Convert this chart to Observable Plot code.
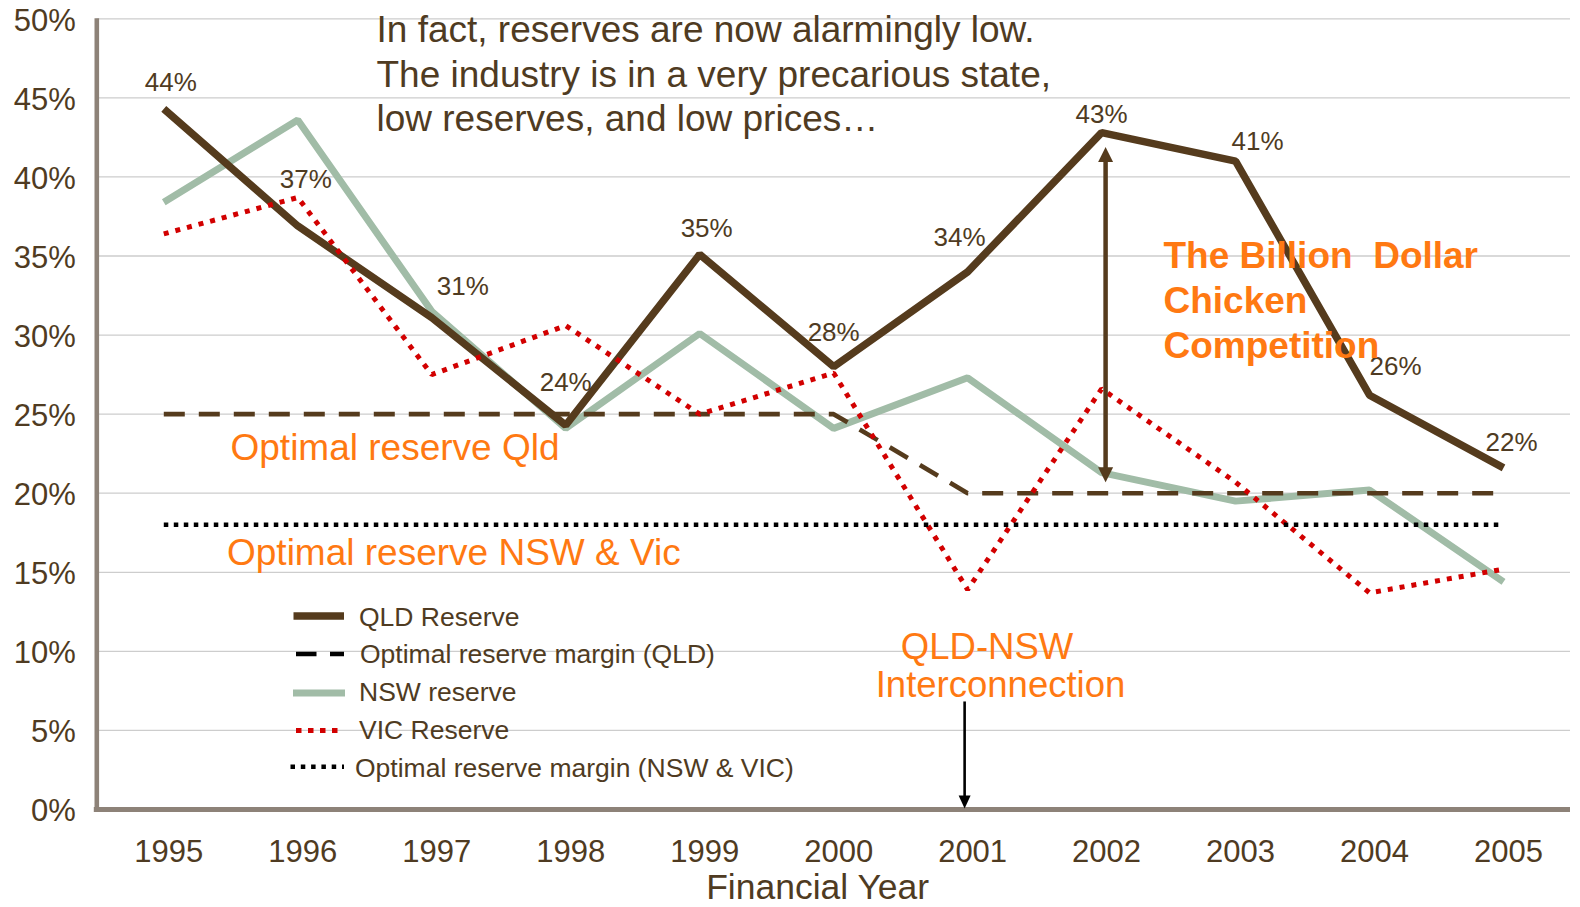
<!DOCTYPE html>
<html><head><meta charset="utf-8">
<script src="https://cdn.jsdelivr.net/npm/d3@7"></script>
<script src="https://cdn.jsdelivr.net/npm/@observablehq/plot@0.6"></script>
<style>
html,body{margin:0;padding:0;background:#fff;}
#wrap{position:relative;width:1580px;height:907px;overflow:hidden;}
#wrap svg{font-family:"Liberation Sans",Arial,sans-serif;}
#wrap svg text{white-space:pre;}
#legend{position:absolute;left:0;top:0;pointer-events:none;}
</style></head><body><div id="wrap"></div>
<script>
// ---- data ----
const years = [1995, 1996, 1997, 1998, 1999, 2000, 2001, 2002, 2003, 2004, 2005];
const qldReserve = [44.3, 36.9, 31.1, 24.3, 35.1, 28.0, 34.0, 42.8, 41.0, 26.2, 21.6];
const nswReserve = [38.4, 43.6, 31.5, 24.1, 30.1, 24.1, 27.3, 21.3, 19.5, 20.2, 14.4];
const vicReserve = [36.4, 38.7, 27.5, 30.6, 25.0, 27.6, 13.9, 26.6, 20.7, 13.7, 15.2];
const optimalQld = [25, 25, 25, 25, 25, 25, 20, 20, 20, 20, 20];
const optimalNswVic = [18, 18, 18, 18, 18, 18, 18, 18, 18, 18, 18];
const qldLabels = ["44%", "37%", "31%", "24%", "35%", "28%", "34%", "43%", "41%", "26%", "22%"];
const yTicks = [0, 5, 10, 15, 20, 25, 30, 35, 40, 45, 50];
const legendLabels = ["QLD Reserve", "Optimal reserve margin (QLD)", "NSW reserve", "VIC Reserve", "Optimal reserve margin (NSW & VIC)"];
const billionArrow = [{year: 2002, from: 41.9, to: 20.7}];
const interconnectArrow = [{year: 2001, from: 6.8, to: 0}];

// ---- styles ----
const brown = "#553b1d", textBrown = "#4f3b22", sage = "#a1bca7", red = "#d20000",
      orange = "#ff7912", axisCol = "#8d8278", gridCol = "#cdcdcd";
const font = "Liberation Sans, Arial, sans-serif";

const table = years.map((year, i) => ({
  year, qld: qldReserve[i], nsw: nswReserve[i], vic: vicReserve[i],
  optQld: optimalQld[i], optNV: optimalNswVic[i], label: qldLabels[i]
}));

const labelOffsets = [[7,-26],[8,-46],[31,-31],[0,-43],[7,-26],[0,-34],[-8,-34],[0,-18],[22,-19],[26,-29],[8,-25]];

const headUp = {draw(ctx){ctx.moveTo(0,0);ctx.lineTo(7.5,15);ctx.lineTo(-7.5,15);ctx.closePath();}};
const headDown = {draw(ctx){ctx.moveTo(0,0);ctx.lineTo(7.5,-15);ctx.lineTo(-7.5,-15);ctx.closePath();}};
const headDownSmall = {draw(ctx){ctx.moveTo(0,0);ctx.lineTo(6,-13);ctx.lineTo(-6,-13);ctx.closePath();}};

const lineOpts = {x: "year", strokeLinejoin: "miter", strokeLinecap: "butt"};

const chart = Plot.plot({
  width: 1580, height: 907,
  marginLeft: 96.3, marginRight: 10, marginTop: 18.3, marginBottom: 98,
  style: {fontFamily: font, background: "white", overflow: "visible"},
  x: {domain: [1994.5, 2005.5]},
  y: {domain: [0, 50]},
  marks: [
    Plot.ruleY(yTicks, {stroke: gridCol, strokeWidth: 1.3}),
    Plot.axisY(yTicks, {tickSize: 0, tickPadding: 21, tickFormat: d => d + "%", fontSize: 31, fill: textBrown, dy: 2, label: null}),
    Plot.axisX(years, {tickSize: 0, tickPadding: 30.5, tickFormat: d => String(d), fontSize: 31, fill: textBrown, dx: 5, label: null}),
    Plot.text(["Financial Year"], {text: d => d, frameAnchor: "bottom", lineAnchor: "middle", dy: 78, dx: -16, fontSize: 35.5, fill: textBrown}),
    // series
    Plot.line(table, {...lineOpts, y: "nsw", stroke: sage, strokeWidth: 7}),
    Plot.line(table, {...lineOpts, y: "optQld", stroke: brown, strokeWidth: 4.6, strokeDasharray: "21 14"}),
    Plot.line(table, {...lineOpts, y: "qld", stroke: brown, strokeWidth: 7.5}),
    Plot.line(table, {...lineOpts, y: "vic", stroke: red, strokeWidth: 5, strokeDasharray: "5 7"}),
    Plot.line(table, {...lineOpts, y: "optNV", stroke: "#000", strokeWidth: 4.5, strokeDasharray: "4.5 5.5"}),
    // axis lines
    Plot.ruleX([1994.5], {stroke: axisCol, strokeWidth: 4.6, insetBottom: -2.5}),
    Plot.ruleY([0], {stroke: axisCol, strokeWidth: 5, insetLeft: -2.5}),
    // data labels
    ...table.map((d, i) => Plot.text([d], {x: "year", y: "qld", text: "label", dx: labelOffsets[i][0], dy: labelOffsets[i][1], fontSize: 26, fill: textBrown})),
    // billion dollar arrow
    Plot.ruleX(billionArrow, {x: "year", y1: "from", y2: "to", stroke: brown, strokeWidth: 4.5, dx: 4, insetTop: 10, insetBottom: 10}),
    Plot.dot(billionArrow, {x: "year", y: "from", symbol: headUp, fill: brown, stroke: "none", r: 5, dx: 4}),
    Plot.dot(billionArrow, {x: "year", y: "to", symbol: headDown, fill: brown, stroke: "none", r: 5, dx: 4}),
    // interconnection arrow
    Plot.ruleX(interconnectArrow, {x: "year", y1: "from", y2: "to", stroke: "#000", strokeWidth: 2.6, dx: -3, insetBottom: 10}),
    Plot.dot(interconnectArrow, {x: "year", y: "to", symbol: headDownSmall, fill: "#000", stroke: "none", r: 5, dx: -3, dy: -1}),
    // annotations
    Plot.text(["In fact, reserves are now alarmingly low.\nThe industry is in a very precarious state,\nlow reserves, and low prices…"],
      {text: d => d, frameAnchor: "top-left", textAnchor: "start", lineAnchor: "middle", dx: 279.7, dy: 53.5, fontSize: 37, lineHeight: 1.2, fill: textBrown}),
    Plot.text(["The Billion  Dollar\nChicken\nCompetition"],
      {text: d => d, frameAnchor: "top-left", textAnchor: "start", lineAnchor: "middle", dx: 1066.7, dy: 280, fontSize: 37, fontWeight: "bold", lineHeight: 1.216, fill: orange}),
    Plot.text(["Optimal reserve Qld"],
      {text: d => d, frameAnchor: "top-left", textAnchor: "start", lineAnchor: "middle", dx: 133.7, dy: 429.5, fontSize: 37, fill: orange}),
    Plot.text(["Optimal reserve NSW & Vic"],
      {text: d => d, frameAnchor: "top-left", textAnchor: "start", lineAnchor: "middle", dx: 130.2, dy: 534.5, fontSize: 37, fill: orange}),
    Plot.text(["QLD-NSW"],
      {text: d => d, frameAnchor: "top-left", textAnchor: "middle", lineAnchor: "middle", dx: 890.2, dy: 629, fontSize: 36.5, fill: orange}),
    Plot.text(["Interconnection"],
      {text: d => d, frameAnchor: "top-left", textAnchor: "middle", lineAnchor: "middle", dx: 903.7, dy: 666.5, fontSize: 36.5, fill: orange})
  ]
});
const wrap = document.getElementById("wrap");
wrap.appendChild(chart);

// ---- legend overlay ----
const legendStyles = [
  {x1: 293.5, x2: 344, y: 616, stroke: brown, w: 7.5, dash: null, tx: 359, ty: 616.5},
  {x1: 296, x2: 344, y: 654, stroke: "#000", w: 4.6, dash: "20.5 13.5", tx: 360, ty: 653},
  {x1: 293, x2: 345, y: 693, stroke: sage, w: 6.8, dash: null, tx: 359, ty: 691.5},
  {x1: 296, x2: 344, y: 730.5, stroke: red, w: 5, dash: "5.5 6.5", tx: 359, ty: 729.5},
  {x1: 290.5, x2: 344, y: 766.7, stroke: "#000", w: 4.5, dash: "4.5 5.8", tx: 355, ty: 767}
];
const lsvg = d3.select(wrap).append("svg").attr("id", "legend").attr("width", 1580).attr("height", 907)
  .style("font-family", font);
legendLabels.forEach((lab, i) => {
  const s = legendStyles[i];
  lsvg.append("line").attr("x1", s.x1).attr("x2", s.x2).attr("y1", s.y).attr("y2", s.y)
    .attr("stroke", s.stroke).attr("stroke-width", s.w).attr("stroke-dasharray", s.dash);
  lsvg.append("text").attr("x", s.tx).attr("y", s.ty + 9.5).attr("font-size", 26.5).attr("fill", textBrown).text(lab);
});
</script></body></html>
